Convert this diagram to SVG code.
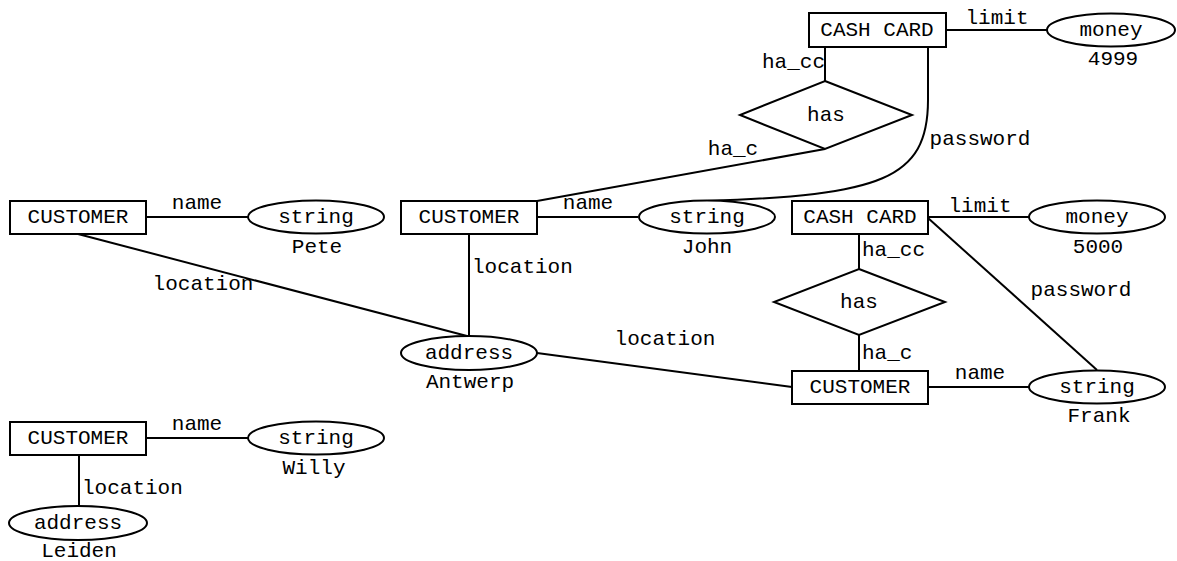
<svg xmlns="http://www.w3.org/2000/svg" width="1177" height="561" viewBox="0 0 1177 561">
<style>
text{font-family:"Liberation Mono","Courier New",monospace;font-size:21px;fill:#000}
.c{text-anchor:middle}
.e{text-anchor:end}
.s{fill:#fff;stroke:#000;stroke-width:2}
.l{fill:none;stroke:#000;stroke-width:2}
</style>
<rect width="1177" height="561" fill="#fff"/>
<g id="connectors">
<line class="l" x1="946" y1="30" x2="1047" y2="30"/>
<text x="997" y="24" class="c">limit</text>
<line class="l" x1="825" y1="47" x2="825" y2="81"/>
<text x="825" y="68" class="e">ha_cc</text>
<line class="l" x1="825" y1="149" x2="537" y2="201"/>
<text x="733" y="155" class="c">ha_c</text>
<path class="l" d="M928,47 L928,100 C928,180 880,195 707,201"/>
<text x="980" y="145" class="c">password</text>
<line class="l" x1="146" y1="217" x2="248" y2="217"/>
<text x="197" y="209" class="c">name</text>
<line class="l" x1="78" y1="234" x2="467" y2="336"/>
<text x="203" y="290" class="c">location</text>
<line class="l" x1="537" y1="217" x2="638" y2="217"/>
<text x="588" y="209" class="c">name</text>
<line class="l" x1="469" y1="234" x2="469" y2="336"/>
<text x="472" y="273">location</text>
<line class="l" x1="537" y1="353" x2="792" y2="387"/>
<text x="665" y="345" class="c">location</text>
<line class="l" x1="928" y1="217" x2="1029" y2="217"/>
<text x="980" y="212" class="c">limit</text>
<line class="l" x1="928" y1="218" x2="1097" y2="370"/>
<text x="1081" y="296" class="c">password</text>
<line class="l" x1="859" y1="234" x2="859" y2="269"/>
<text x="862" y="256">ha_cc</text>
<line class="l" x1="859" y1="335" x2="859" y2="370"/>
<text x="862" y="359">ha_c</text>
<line class="l" x1="928" y1="387" x2="1029" y2="387"/>
<text x="980" y="379" class="c">name</text>
<line class="l" x1="146" y1="438" x2="248" y2="438"/>
<text x="197" y="430" class="c">name</text>
<line class="l" x1="79" y1="455" x2="79" y2="506"/>
<text x="82" y="494">location</text>
</g>
<g id="cashcard1"><rect class="s" x="809" y="13" width="137" height="34"/><text x="877" y="36" class="c">CASH CARD</text></g>
<g id="money1"><ellipse class="s" cx="1111" cy="30" rx="64" ry="16.5"/><text x="1111" y="36" class="c">money</text><text x="1113" y="65" class="c">4999</text></g>
<g id="has1"><polygon class="s" points="825,81 912,115 825,149 740,115"/><text x="826" y="121" class="c">has</text></g>
<g id="customerPete"><rect class="s" x="10" y="201" width="136" height="33"/><text x="78" y="223" class="c">CUSTOMER</text></g>
<g id="stringPete"><ellipse class="s" cx="316" cy="217" rx="68" ry="16.5"/><text x="316" y="223" class="c">string</text><text x="317" y="253" class="c">Pete</text></g>
<g id="customerJohn"><rect class="s" x="401" y="201" width="136" height="33"/><text x="469" y="223" class="c">CUSTOMER</text></g>
<g id="stringJohn"><ellipse class="s" cx="707" cy="217" rx="68" ry="16.5"/><text x="707" y="223" class="c">string</text><text x="707" y="253" class="c">John</text></g>
<g id="cashcard2"><rect class="s" x="792" y="201" width="136" height="33"/><text x="860" y="223" class="c">CASH CARD</text></g>
<g id="money2"><ellipse class="s" cx="1097" cy="217" rx="68" ry="16.5"/><text x="1097" y="223" class="c">money</text><text x="1098" y="253" class="c">5000</text></g>
<g id="has2"><polygon class="s" points="859,269 945,302 859,335 774,302"/><text x="859" y="308" class="c">has</text></g>
<g id="addressAntwerp"><ellipse class="s" cx="469" cy="353" rx="68" ry="17"/><text x="469" y="359" class="c">address</text><text x="470" y="388" class="c">Antwerp</text></g>
<g id="customerFrank"><rect class="s" x="792" y="371" width="136" height="33"/><text x="860" y="393" class="c">CUSTOMER</text></g>
<g id="stringFrank"><ellipse class="s" cx="1097" cy="387" rx="68" ry="16.5"/><text x="1097" y="393" class="c">string</text><text x="1099" y="422" class="c">Frank</text></g>
<g id="customerWilly"><rect class="s" x="10" y="422" width="136" height="33"/><text x="78" y="444" class="c">CUSTOMER</text></g>
<g id="stringWilly"><ellipse class="s" cx="316" cy="438" rx="68" ry="16.5"/><text x="316" y="444" class="c">string</text><text x="314" y="474" class="c">Willy</text></g>
<g id="addressLeiden"><ellipse class="s" cx="78" cy="523" rx="69" ry="17"/><text x="78" y="529" class="c">address</text><text x="79" y="557" class="c">Leiden</text></g>
</svg>
